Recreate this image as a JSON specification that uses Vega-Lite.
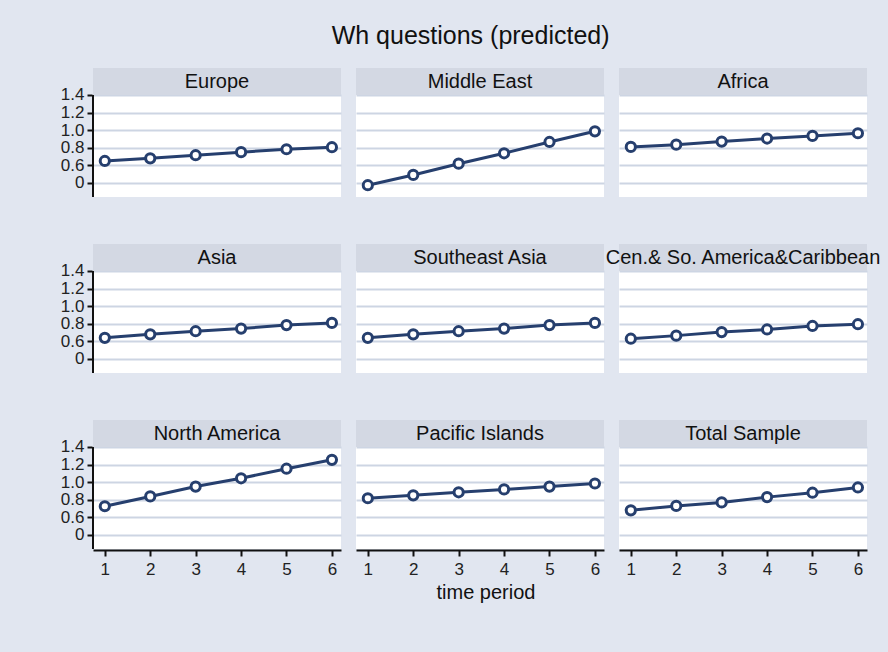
{
  "$schema": "https://vega.github.io/schema/vega-lite/v6.json",
  "background": "#e1e6f0",
  "padding": {"left": 60, "top": 24, "right": 45, "bottom": 80},
  "title": {"text": "Wh questions (predicted)", "fontSize": 25, "font": "Liberation Sans", "fontWeight": "normal", "color": "#111111", "offset": 18, "anchor": "middle"},
  "data": {"values": [
    {"region": "Europe", "t": 1, "value": 0.65},
    {"region": "Europe", "t": 2, "value": 0.68},
    {"region": "Europe", "t": 3, "value": 0.715},
    {"region": "Europe", "t": 4, "value": 0.75},
    {"region": "Europe", "t": 5, "value": 0.783},
    {"region": "Europe", "t": 6, "value": 0.806},
    {"region": "Middle East", "t": 1, "value": 0.374},
    {"region": "Middle East", "t": 2, "value": 0.491},
    {"region": "Middle East", "t": 3, "value": 0.619},
    {"region": "Middle East", "t": 4, "value": 0.737},
    {"region": "Middle East", "t": 5, "value": 0.866},
    {"region": "Middle East", "t": 6, "value": 0.987},
    {"region": "Africa", "t": 1, "value": 0.81},
    {"region": "Africa", "t": 2, "value": 0.835},
    {"region": "Africa", "t": 3, "value": 0.87},
    {"region": "Africa", "t": 4, "value": 0.905},
    {"region": "Africa", "t": 5, "value": 0.935},
    {"region": "Africa", "t": 6, "value": 0.965},
    {"region": "Asia", "t": 1, "value": 0.64},
    {"region": "Asia", "t": 2, "value": 0.68},
    {"region": "Asia", "t": 3, "value": 0.715},
    {"region": "Asia", "t": 4, "value": 0.745},
    {"region": "Asia", "t": 5, "value": 0.785},
    {"region": "Asia", "t": 6, "value": 0.81},
    {"region": "Southeast Asia", "t": 1, "value": 0.64},
    {"region": "Southeast Asia", "t": 2, "value": 0.68},
    {"region": "Southeast Asia", "t": 3, "value": 0.715},
    {"region": "Southeast Asia", "t": 4, "value": 0.745},
    {"region": "Southeast Asia", "t": 5, "value": 0.785},
    {"region": "Southeast Asia", "t": 6, "value": 0.81},
    {"region": "Cen.& So. America&Caribbean", "t": 1, "value": 0.63},
    {"region": "Cen.& So. America&Caribbean", "t": 2, "value": 0.665},
    {"region": "Cen.& So. America&Caribbean", "t": 3, "value": 0.705},
    {"region": "Cen.& So. America&Caribbean", "t": 4, "value": 0.735},
    {"region": "Cen.& So. America&Caribbean", "t": 5, "value": 0.775},
    {"region": "Cen.& So. America&Caribbean", "t": 6, "value": 0.795},
    {"region": "North America", "t": 1, "value": 0.726},
    {"region": "North America", "t": 2, "value": 0.838},
    {"region": "North America", "t": 3, "value": 0.95},
    {"region": "North America", "t": 4, "value": 1.044},
    {"region": "North America", "t": 5, "value": 1.153},
    {"region": "North America", "t": 6, "value": 1.254},
    {"region": "Pacific Islands", "t": 1, "value": 0.817},
    {"region": "Pacific Islands", "t": 2, "value": 0.85},
    {"region": "Pacific Islands", "t": 3, "value": 0.885},
    {"region": "Pacific Islands", "t": 4, "value": 0.918},
    {"region": "Pacific Islands", "t": 5, "value": 0.95},
    {"region": "Pacific Islands", "t": 6, "value": 0.985},
    {"region": "Total Sample", "t": 1, "value": 0.68},
    {"region": "Total Sample", "t": 2, "value": 0.73},
    {"region": "Total Sample", "t": 3, "value": 0.77},
    {"region": "Total Sample", "t": 4, "value": 0.83},
    {"region": "Total Sample", "t": 5, "value": 0.88},
    {"region": "Total Sample", "t": 6, "value": 0.94}
  ]},
  "facet": {
    "field": "region",
    "type": "nominal",
    "sort": ["Europe", "Middle East", "Africa", "Asia", "Southeast Asia", "Cen.& So. America&Caribbean", "North America", "Pacific Islands", "Total Sample"],
    "title": "time period",
    "header": {"labelExpr": "''", "labelFontSize": 1, "labelPadding": 0, "titleOrient": "bottom", "titleFont": "Liberation Sans", "titleFontSize": 20, "titleFontWeight": "normal", "titleColor": "#111111", "titlePadding": 6}
  },
  "columns": 3,
  "spacing": {"row": 45, "column": -13},
  "spec": {
    "width": 248,
    "height": 129,
    "layer": [
      {
        "transform": [{"filter": "datum.t == 1"}],
        "mark": {"type": "rect", "color": "#d3d8e3"},
        "encoding": {
          "x": {"datum": 0.74, "type": "quantitative", "scale": {"domain": [0.74, 6.2], "nice": false, "zero": false}, "axis": {"title": null, "values": [1, 2, 3, 4, 5, 6], "format": "d", "tickSize": 6, "labelPadding": 5, "grid": false}},
          "x2": {"datum": 6.2},
          "y": {"datum": 1.4, "type": "quantitative", "scale": {"domain": [0.24, 1.707], "nice": false, "zero": false}, "axis": {"title": null, "values": [0.4, 0.6, 0.8, 1.0, 1.2, 1.4], "tickCount": 12, "grid": true, "gridColor": "#cdd5e3", "gridWidth": 2, "domain": false, "tickSize": 5, "labelPadding": 3, "labelOverlap": false, "labelExpr": "datum.value < 0.5 ? '0' : format(datum.value, '.1f')"}},
          "y2": {"datum": 1.707}
        }
      },
      {
        "transform": [{"filter": "datum.t == 1 && (datum.region == 'Europe' || datum.region == 'Asia' || datum.region == 'North America')"}],
        "mark": {"type": "rule", "color": "#111111", "strokeWidth": 2},
        "encoding": {
          "x": {"datum": 0.74, "type": "quantitative"},
          "y": {"datum": 0.24, "type": "quantitative"},
          "y2": {"datum": 1.4}
        }
      },
      {
        "transform": [{"filter": "datum.t == 1"}],
        "mark": {"type": "text", "font": "Liberation Sans", "fontSize": 20, "color": "#111111", "baseline": "middle", "align": "center"},
        "encoding": {
          "x": {"datum": 3.47, "type": "quantitative"},
          "y": {"datum": 1.553, "type": "quantitative"},
          "text": {"field": "region", "type": "nominal"}
        }
      },
      {
        "mark": {"type": "line", "color": "#263f6e", "strokeWidth": 3},
        "encoding": {
          "x": {"field": "t", "type": "quantitative"},
          "y": {"field": "value", "type": "quantitative"}
        }
      },
      {
        "mark": {"type": "point", "shape": "circle", "filled": true, "fill": "white", "stroke": "#263f6e", "strokeWidth": 3, "size": 85, "opacity": 1},
        "encoding": {
          "x": {"field": "t", "type": "quantitative"},
          "y": {"field": "value", "type": "quantitative"}
        }
      }
    ]
  },
  "config": {
    "view": {"fill": "white", "stroke": null},
    "axis": {"labelFont": "Liberation Sans", "labelFontSize": 17, "labelColor": "#222222", "tickColor": "#111111", "tickWidth": 2, "domainColor": "#111111", "domainWidth": 2, "gridColor": "#cdd5e3", "gridWidth": 2}
  }
}
